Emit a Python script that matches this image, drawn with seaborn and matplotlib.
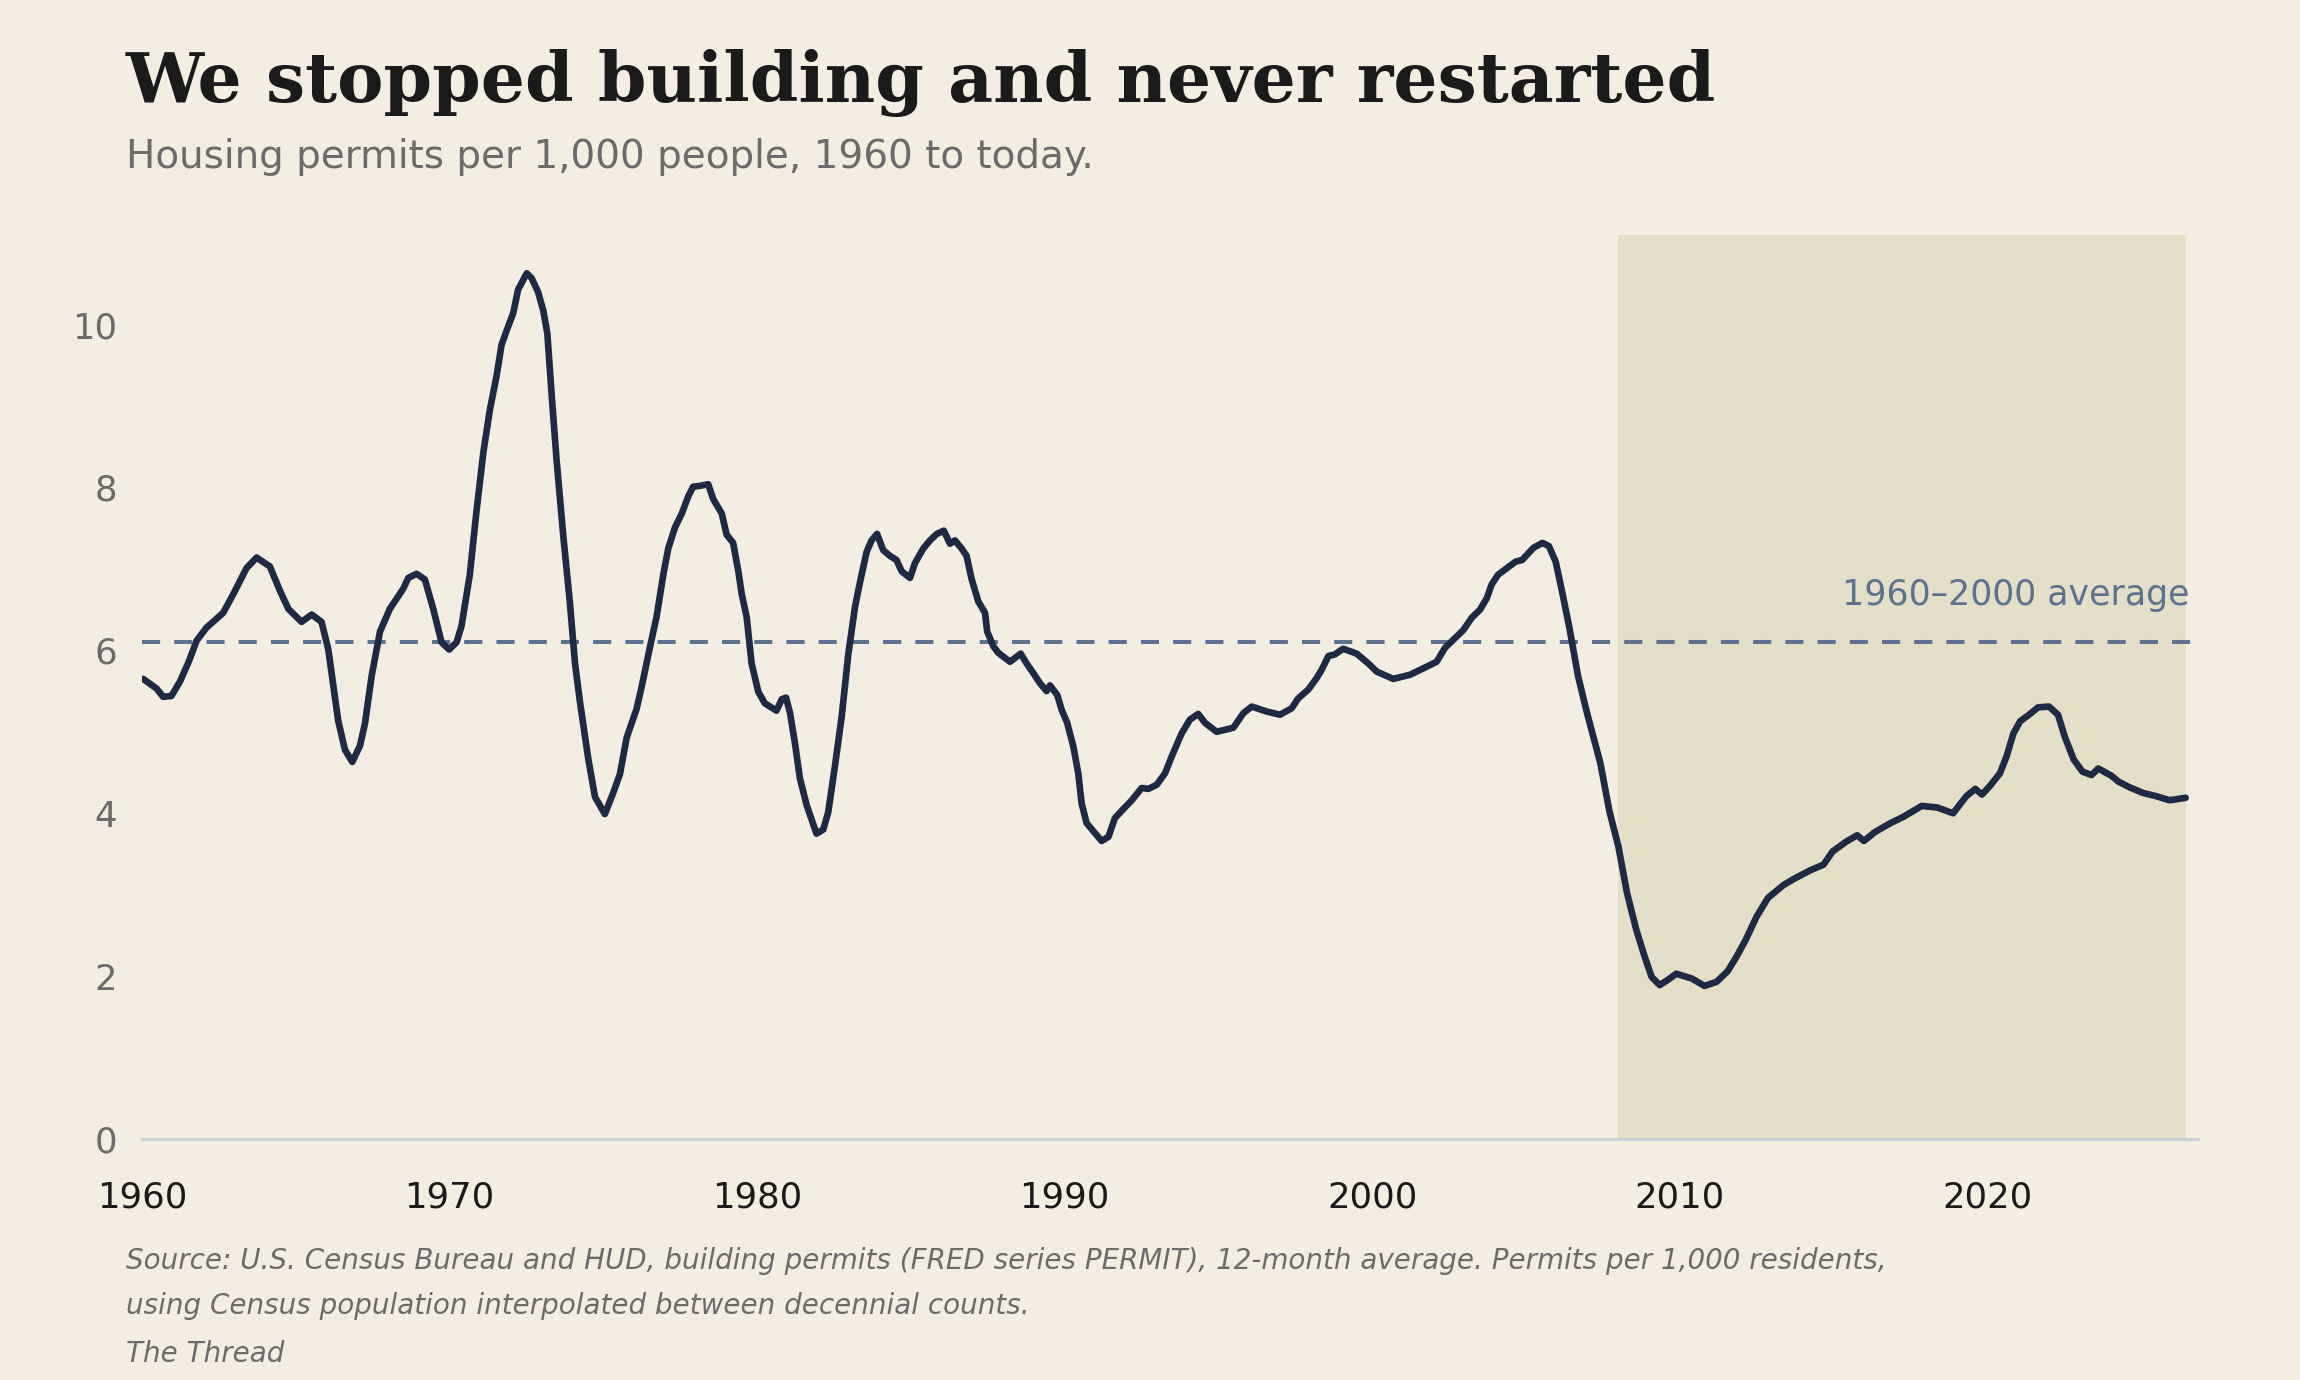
import numpy as np
import pandas as pd
import matplotlib
matplotlib.use("Agg")
import matplotlib.pyplot as plt
import seaborn as sns

# values (12-month average permits per 1,000 people)
years = [
    1960.04, 1960.48, 1960.69, 1960.96, 1961.24, 1961.51, 1961.78, 1962.10, 1962.64, 1962.97,
    1963.40, 1963.73, 1964.16, 1964.49, 1964.76, 1965.19, 1965.52, 1965.84, 1966.06, 1966.38,
    1966.60, 1966.84, 1967.09, 1967.25, 1967.47, 1967.74, 1968.06, 1968.50, 1968.66, 1968.93,
    1969.20, 1969.47, 1969.74, 1969.99, 1970.23, 1970.39, 1970.66, 1970.88, 1971.10, 1971.31,
    1971.53, 1971.69, 1971.86, 1972.07, 1972.23, 1972.51, 1972.67, 1972.88, 1973.05, 1973.18,
    1973.32, 1973.48, 1973.70, 1973.91, 1974.08, 1974.24, 1974.51, 1974.73, 1975.05, 1975.32,
    1975.54, 1975.76, 1976.08, 1976.25, 1976.51, 1976.73, 1976.95, 1977.11, 1977.33, 1977.55,
    1977.76, 1977.92, 1978.14, 1978.41, 1978.57, 1978.85, 1979.01, 1979.22, 1979.39, 1979.50,
    1979.66, 1979.82, 1980.04, 1980.25, 1980.63, 1980.80, 1980.94, 1981.07, 1981.23, 1981.39,
    1981.61, 1981.93, 1982.15, 1982.31, 1982.53, 1982.75, 1982.96, 1983.18, 1983.34, 1983.56,
    1983.72, 1983.90, 1984.10, 1984.32, 1984.53, 1984.70, 1984.97, 1985.13, 1985.40, 1985.62,
    1985.84, 1986.07, 1986.27, 1986.43, 1986.65, 1986.81, 1986.97, 1987.19, 1987.41, 1987.48,
    1987.68, 1987.84, 1988.22, 1988.57, 1988.76, 1988.98, 1989.19, 1989.41, 1989.52, 1989.76,
    1989.90, 1990.08, 1990.28, 1990.44, 1990.55, 1990.71, 1990.93, 1991.20, 1991.42, 1991.63,
    1991.90, 1992.18, 1992.50, 1992.72, 1992.99, 1993.26, 1993.48, 1993.80, 1994.07, 1994.34,
    1994.56, 1994.94, 1995.48, 1995.81, 1996.08, 1996.56, 1997.00, 1997.38, 1997.59, 1997.92,
    1998.19, 1998.35, 1998.57, 1998.78, 1999.05, 1999.49, 1999.87, 2000.14, 2000.68, 2001.22,
    2001.66, 2002.09, 2002.36, 2002.63, 2002.96, 2003.23, 2003.50, 2003.72, 2003.88, 2004.09,
    2004.66, 2004.87, 2005.24, 2005.53, 2005.74, 2005.96, 2006.18, 2006.40, 2006.69, 2006.98,
    2007.41, 2007.71, 2008.00, 2008.28, 2008.58, 2008.87, 2009.08, 2009.34, 2009.59, 2009.88,
    2010.39, 2010.80, 2011.19, 2011.55, 2011.84, 2012.13, 2012.49, 2012.86, 2013.37, 2013.73,
    2014.24, 2014.67, 2014.96, 2015.40, 2015.76, 2015.98, 2016.34, 2016.85, 2017.28, 2017.86,
    2018.37, 2018.88, 2019.31, 2019.60, 2019.82, 2020.11, 2020.40, 2020.62, 2020.84, 2021.06,
    2021.35, 2021.64, 2022.00, 2022.29, 2022.51, 2022.80, 2023.09, 2023.38, 2023.60, 2024.03,
    2024.25, 2024.61, 2025.05, 2025.48, 2025.92, 2026.44,
]
permits = [
    5.65, 5.53, 5.43, 5.44, 5.62, 5.85, 6.12, 6.28, 6.46, 6.69,
    7.01, 7.14, 7.03, 6.73, 6.51, 6.35, 6.44, 6.35, 6.01, 5.14,
    4.78, 4.63, 4.83, 5.10, 5.69, 6.23, 6.51, 6.76, 6.89, 6.94,
    6.87, 6.51, 6.10, 6.01, 6.10, 6.30, 6.93, 7.72, 8.43, 8.95,
    9.37, 9.75, 9.93, 10.14, 10.43, 10.63, 10.57, 10.40, 10.17, 9.89,
    9.14, 8.34, 7.40, 6.60, 5.84, 5.37, 4.67, 4.20, 3.99, 4.25,
    4.48, 4.93, 5.28, 5.56, 6.03, 6.41, 6.93, 7.25, 7.51, 7.68,
    7.89, 8.01, 8.02, 8.04, 7.86, 7.68, 7.42, 7.32, 6.97, 6.69,
    6.41, 5.84, 5.49, 5.35, 5.26, 5.40, 5.42, 5.23, 4.86, 4.43,
    4.10, 3.75, 3.80, 4.01, 4.58, 5.19, 5.94, 6.53, 6.83, 7.21,
    7.35, 7.43, 7.23, 7.16, 7.11, 6.97, 6.89, 7.07, 7.25, 7.35,
    7.43, 7.47, 7.31, 7.35, 7.25, 7.16, 6.88, 6.60, 6.46, 6.23,
    6.05, 5.97, 5.86, 5.96, 5.84, 5.72, 5.60, 5.50, 5.57, 5.45,
    5.27, 5.11, 4.82, 4.49, 4.12, 3.88, 3.78, 3.66, 3.71, 3.94,
    4.05, 4.16, 4.31, 4.30, 4.35, 4.49, 4.70, 4.98, 5.15, 5.22,
    5.11, 5.00, 5.05, 5.23, 5.31, 5.25, 5.21, 5.29, 5.41, 5.52,
    5.66, 5.76, 5.93, 5.95, 6.02, 5.96, 5.84, 5.74, 5.65, 5.70,
    5.78, 5.86, 6.03, 6.13, 6.25, 6.40, 6.50, 6.64, 6.81, 6.93,
    7.09, 7.11, 7.26, 7.32, 7.28, 7.09, 6.70, 6.29, 5.68, 5.23,
    4.62, 4.02, 3.59, 3.02, 2.57, 2.22, 1.99, 1.89, 1.95, 2.03,
    1.97, 1.88, 1.93, 2.06, 2.24, 2.44, 2.73, 2.96, 3.12, 3.20,
    3.30, 3.37, 3.53, 3.65, 3.73, 3.66, 3.77, 3.88, 3.96, 4.09,
    4.07, 4.00, 4.21, 4.30, 4.23, 4.35, 4.49, 4.70, 4.98, 5.13,
    5.21, 5.30, 5.31, 5.21, 4.94, 4.66, 4.51, 4.47, 4.55, 4.46,
    4.39, 4.32, 4.25, 4.21, 4.16, 4.19,
]
avg_1960_2000 = 6.1
avg_label = "1960\u20132000 average"
shade_start = 2008
x_ticks = [1960, 1970, 1980, 1990, 2000, 2010, 2020]
y_ticks = [0, 2, 4, 6, 8, 10]

title = "We stopped building and never restarted"
subtitle = "Housing permits per 1,000 people, 1960 to today."
source_lines = [
    "Source: U.S. Census Bureau and HUD, building permits (FRED series PERMIT), 12-month average. Permits per 1,000 residents,",
    "using Census population interpolated between decennial counts.",
    "The Thread",
]

BG = "#f3eee1"
SHADE = "#e6dfc8"
LINE = "#1e2a45"
AVG = "#5b7391"
GREY = "#6b6b6b"

sns.set_theme(style="white")
plt.rcParams["font.family"] = ["DejaVu Sans"]

df = pd.DataFrame({"year": years, "permits": permits})

fig = plt.figure(figsize=(11.5, 6.9), dpi=200, facecolor=BG)
ax = fig.add_axes([0.0617, 0.1746, 0.8938, 0.6551])
ax.set_facecolor(BG)

# shaded post-2008 era
ax.axvspan(shade_start, df["year"].max(), color=SHADE, lw=0, zorder=0)

ax.axhline(avg_1960_2000, color=AVG, lw=1.45, dashes=(4.5, 3.5), zorder=1)

sns.lineplot(data=df, x="year", y="permits", ax=ax, color=LINE, lw=2.4,
             solid_joinstyle="round", solid_capstyle="round", zorder=3)

ax.text(2026.55, 6.56, avg_label, ha="right", va="baseline",
        fontsize=12.5, color=AVG)

ax.set_xlim(1960, 2026.83)
ax.set_ylim(0, 11.1)
ax.set_xticks(x_ticks)
ax.set_yticks(y_ticks)
ax.set_xlabel("")
ax.set_ylabel("")
ax.tick_params(axis="both", length=0)
ax.tick_params(axis="x", pad=15, labelsize=12.8, labelcolor="#1a1a1a")
ax.tick_params(axis="y", pad=9, labelsize=12.8, labelcolor=GREY)

for side in ["left", "right", "top"]:
    ax.spines[side].set_visible(False)
ax.spines["bottom"].set_color("#c8d1da")
ax.spines["bottom"].set_linewidth(1.0)
ax.grid(False)

fig.text(0.0548, 0.926, title, family="DejaVu Serif", weight="bold",
         fontsize=25, color="#1a1a1a", va="baseline")
fig.text(0.0548, 0.8783, subtitle, fontsize=14, color=GREY, va="baseline")

for y, line in zip([0.0804, 0.0478, 0.0130], source_lines):
    fig.text(0.0548, y, line, fontsize=10, style="italic", color=GREY, va="baseline")

fig.savefig("out.png", dpi=200, facecolor=BG)
